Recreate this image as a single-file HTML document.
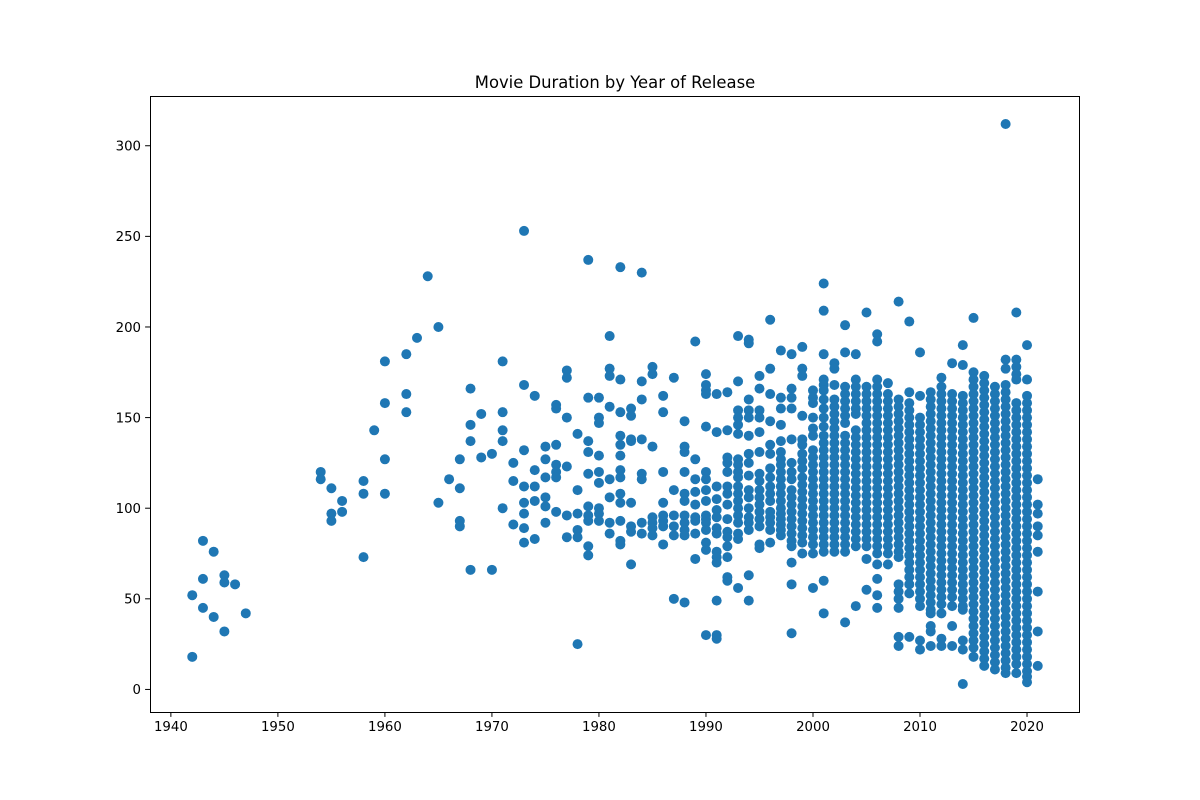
<!DOCTYPE html>
<html><head><meta charset="utf-8"><style>
html,body{margin:0;padding:0;background:#fff;}
svg{display:block;font-family:"DejaVu Sans","Liberation Sans",sans-serif;}
</style></head><body>
<svg id="chart" width="1200" height="800" viewBox="0 0 1200 800" xmlns="http://www.w3.org/2000/svg">
<rect x="0" y="0" width="1200" height="800" fill="#fff"/>
<text x="615" y="88" text-anchor="middle" font-size="16.4" fill="#000">Movie Duration by Year of Release</text>
<g id="points"></g>
<rect x="150.5" y="96.5" width="929" height="616" fill="none" stroke="#000" stroke-width="1"/>
<g id="xaxis"></g>
<g id="yaxis"></g>
</svg>
<script>
const years = [1942,1943,1944,1945,1946,1947,1954,1955,1956,1958,1959,1960,1962,1963,1964,1965,1966,1967,1968,1969,1970,1971,1972,1973,1974,1975,1976,1977,1978,1979,1980,1981,1982,1983,1984,1985,1986,1987,1988,1989,1990,1991,1992,1993,1994,1995,1996,1997,1998,1999,2000,2001,2002,2003,2004,2005,2006,2007,2008,2009,2010,2011,2012,2013,2014,2015,2016,2017,2018,2019,2020,2021];
const durations = [
[52,18],[82,61,45],[76,40],[63,59,32],[58],[42],
[120,116],[111,97,93],[104,98],[115,108,73],[143],[181,158,127,108],[185,163,153],[194],[228],[200,103],[116],[127,111,93,90],[166,146,137,66],[152,128],[130,66],
[181,153,143,137,100],[125,115,91],[253,168,132,112,103,97,89,81],[162,121,112,104,83],[134,127,117,106,101,92],[157,155,135,124,120,117,98],[176,172,150,123,96,84],[141,110,97,88,84,25],[237,161,137,131,119,101,96,93,79,74],[161,150,147,129,120,114,100,97,93],
[195,177,173,156,116,106,92,86],[233,171,153,140,135,129,121,117,108,103,93,82,80],[155,151,138,137,103,90,87,69],[230,170,160,138,119,116,92,86],[178,174,134,95,92,89,85],[162,153,120,103,96,93,90,80],[172,110,96,90,85,50],[148,134,131,120,108,104,96,92,88,85,48],[192,127,116,109,102,95,93,86,72],
[174,168,165,163,145,120,116,110,104,96,94,92,88,81,77,30],[163,142,112,105,99,95,89,86,76,73,70,49,30,28],[164,143,128,125,120,112,108,102,94,87,84,79,73,62,60],[195,170,154,150,146,141,127,124,120,117,112,108,104,100,96,92,86,83,56],[193,191,160,154,150,140,130,125,118,110,106,100,95,92,88,63,49],[173,166,154,150,142,131,119,115,110,106,102,98,94,90,80,78],[204,177,163,148,135,130,122,117,112,108,104,98,95,92,88,81],[187,161,155,146,137,131,127,124,120,116,112,108,104,100,97,94,91,88,85],[185,166,161,155,138,125,120,116,110,106,102,98,94,90,86,82,79,70,58,31],[189,177,173,151,138,135,130,126,122,117,113,109,105,101,97,93,89,85,81,75],
[165,161,158,150,144,140,132,128,124,120,116,112,108,104,100,96,92,88,84,80,75,56],
[224,209,185,171,168,165,160,155,150,145,140,136,132,128,124,120,116,112,108,104,100,96,92,88,84,80,76,60,42],
[180,177,168,160,156,152,148,144,140,136,132,128,124,120,116,112,108,104,100,96,92,88,84,80,76],
[201,186,167,163,159,155,151,147,140,136,132,128,124,120,116,112,108,104,100,96,92,88,84,80,76,37],
[185,171,167,163,159,155,152,143,139,135,131,127,123,119,115,111,107,103,99,95,91,87,83,79,46],
[208,167,163,159,155,151,147,143,139,135,131,127,123,119,115,111,107,103,99,95,91,87,83,79,72,55],
[196,192,171,167,163,159,155,151,147,143,139,135,131,127,123,119,115,111,107,103,99,95,91,87,83,79,75,69,61,52,45],
[169,163,159,155,151,147,143,139,135,131,127,123,119,115,111,107,103,99,95,91,87,83,79,75,69],
[214,160,156,152,148,144,140,136,132,128,124,120,116,112,108,104,100,96,92,88,84,80,76,73,58,54,50,45,29,24],
[203,164,158,154,150,146,142,138,134,130,126,122,118,114,110,106,102,98,94,90,86,82,78,74,70,66,62,58,53,29],
[186,162,150,146,142,138,134,130,126,122,118,114,110,106,102,98,94,90,86,82,78,74,70,66,62,58,54,50,46,27,22],
[164,160,156,152,148,144,140,136,132,128,124,120,116,112,108,104,100,96,92,88,84,80,76,72,68,64,60,56,52,48,44,42,35,32,24],
[172,167,163,159,155,151,147,143,139,135,131,127,123,119,115,111,107,103,99,95,91,87,83,79,75,71,67,63,59,55,51,47,42,28,24],
[180,163,159,155,151,147,143,139,135,131,127,123,119,115,111,107,103,99,95,91,87,83,79,75,71,67,63,59,55,51,46,35,24],
[190,179,162,158,154,150,146,142,138,134,130,126,122,118,114,110,106,102,98,94,90,86,82,78,74,70,66,62,58,54,50,46,44,27,22,3],
[205,175,171,167,163,159,155,151,147,143,139,135,131,127,123,119,115,111,107,103,99,95,91,87,83,79,75,71,67,63,59,55,51,47,43,39,35,31,27,23,18],
[173,169,165,161,157,153,149,145,141,137,133,129,125,121,117,113,109,105,101,97,93,89,85,81,77,73,69,65,61,57,53,49,45,41,37,33,29,25,21,17,13],
[167,163,159,155,151,147,143,139,135,131,127,123,119,115,111,107,103,99,95,91,87,83,79,75,71,67,63,59,55,51,47,43,39,35,31,27,23,19,15,11],
[312,182,177,168,164,160,156,152,148,144,140,136,132,128,124,120,116,112,108,104,100,96,92,88,84,80,76,72,68,64,60,56,52,48,44,40,36,32,28,24,20,16,12,9],
[208,182,178,174,171,158,154,150,146,142,138,134,130,126,122,118,114,110,106,102,98,94,90,86,82,78,74,70,66,62,58,54,50,46,42,38,34,30,26,22,18,14,9],
[190,171,162,158,154,150,146,142,138,134,130,126,122,118,114,110,106,102,98,94,90,86,82,78,74,70,66,62,58,54,50,46,42,38,34,30,26,22,18,14,10,7,4],
[116,102,97,90,85,76,54,32,13]
];
const xTicks = [1940,1950,1960,1970,1980,1990,2000,2010,2020];
const yTicks = [0,50,100,150,200,250,300];

const NS = "http://www.w3.org/2000/svg";
const PL = 150, PR = 1080, PT = 96, PB = 712;
let allX = years.slice(), allY = [];
durations.forEach(d => d.forEach(v => allY.push(v)));
const xmin0 = Math.min(...allX), xmax0 = Math.max(...allX);
const ymin0 = Math.min(...allY), ymax0 = Math.max(...allY);
const xpad = (xmax0 - xmin0) * 0.05, ypad = (ymax0 - ymin0) * 0.05;
const xLo = xmin0 - xpad, xHi = xmax0 + xpad, yLo = ymin0 - ypad, yHi = ymax0 + ypad;
function xs(v){ return PL + (v - xLo) / (xHi - xLo) * (PR - PL); }
function ys(v){ return PB - (v - yLo) / (yHi - yLo) * (PB - PT); }

const pg = document.getElementById('points');
years.forEach((yr, i) => {
  durations[i].forEach(v => {
    const c = document.createElementNS(NS, 'circle');
    c.setAttribute('cx', xs(yr).toFixed(2));
    c.setAttribute('cy', ys(v).toFixed(2));
    c.setAttribute('r', '5');
    c.setAttribute('fill', '#1f77b4');
    
    
    pg.appendChild(c);
  });
});

const xa = document.getElementById('xaxis');
xTicks.forEach(t => {
  const x = xs(t);
  const l = document.createElementNS(NS, 'line');
  l.setAttribute('x1', x); l.setAttribute('x2', x);
  l.setAttribute('y1', PB); l.setAttribute('y2', PB + 4.9);
  l.setAttribute('stroke', '#000');
  
  
  xa.appendChild(l);
  const tx = document.createElementNS(NS, 'text');
  tx.setAttribute('x', x); tx.setAttribute('y', PB + 19);
  tx.setAttribute('text-anchor', 'middle');
  tx.setAttribute('font-size', '13.3');
  tx.textContent = t;
  
  
  xa.appendChild(tx);
});
const ya = document.getElementById('yaxis');
yTicks.forEach(t => {
  const y = ys(t);
  const l = document.createElementNS(NS, 'line');
  l.setAttribute('x1', PL - 4.9); l.setAttribute('x2', PL);
  l.setAttribute('y1', y); l.setAttribute('y2', y);
  l.setAttribute('stroke', '#000');
  
  
  ya.appendChild(l);
  const tx = document.createElementNS(NS, 'text');
  tx.setAttribute('x', PL - 9); tx.setAttribute('y', y + 4.8);
  tx.setAttribute('text-anchor', 'end');
  tx.setAttribute('font-size', '13.3');
  tx.textContent = t;
  
  
  ya.appendChild(tx);
});
</script>
</body></html>
